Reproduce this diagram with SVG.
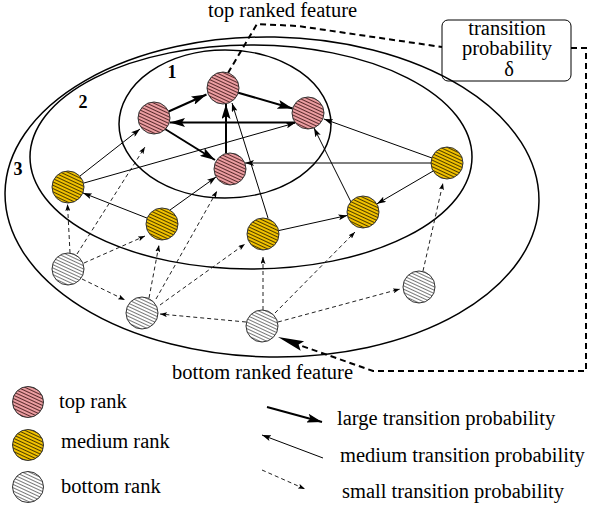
<svg xmlns="http://www.w3.org/2000/svg" width="600" height="506" viewBox="0 0 600 506">
<style>
text{font-family:"Liberation Serif","Times New Roman",serif;fill:#000}
.t{font-size:20.5px}
.num{font-size:18px;font-weight:bold}
.ell{fill:none;stroke:#000;stroke-width:1.5}
.nd{stroke:#333;stroke-width:1}
.top{fill:url(#hTop)}
.mid{fill:url(#hMid)}
.bot{fill:url(#hBot)}
.L{stroke:#000;stroke-width:2;fill:none;marker-end:url(#mL)}
.M{stroke:#000;stroke-width:1;fill:none;marker-end:url(#mM)}
.S{stroke:#222;stroke-width:1;fill:none;stroke-dasharray:4 3;marker-end:url(#mS)}
.D{stroke:#000;stroke-width:2;fill:none;stroke-dasharray:6 4}
</style>
<defs>
<pattern id="hTop" patternUnits="userSpaceOnUse" width="4" height="3" patternTransform="rotate(25)">
<rect width="4" height="3" fill="#ec9ea2"/><line x1="0" y1="1.5" x2="4" y2="1.5" stroke="#4a1e1e" stroke-width="0.9"/>
</pattern>
<pattern id="hMid" patternUnits="userSpaceOnUse" width="4" height="3" patternTransform="rotate(25)">
<rect width="4" height="3" fill="#f2c200"/><line x1="0" y1="1.5" x2="4" y2="1.5" stroke="#3a2c00" stroke-width="0.9"/>
</pattern>
<pattern id="hBot" patternUnits="userSpaceOnUse" width="4" height="3" patternTransform="rotate(25)">
<rect width="4" height="3" fill="#fff"/><line x1="0" y1="1.5" x2="4" y2="1.5" stroke="#555" stroke-width="0.8"/>
</pattern>
<marker id="mL" markerUnits="userSpaceOnUse" markerWidth="15" markerHeight="9" refX="15" refY="4.5" orient="auto"><path d="M0,0 L15,4.5 L0,9 L3,4.5 z" fill="#000"/></marker>
<marker id="mM" markerUnits="userSpaceOnUse" markerWidth="9" markerHeight="6" refX="9" refY="3" orient="auto"><path d="M0,0 L9,3 L0,6 L2,3 z" fill="#000"/></marker>
<marker id="mS" markerUnits="userSpaceOnUse" markerWidth="7" markerHeight="5" refX="7" refY="2.5" orient="auto"><path d="M0,0 L7,2.5 L0,5 L1.5,2.5 z" fill="#000"/></marker>
</defs>

<g id="regions">
<ellipse class="ell" cx="272" cy="197" rx="267" ry="160" transform="rotate(1 272 197)"/>
<ellipse class="ell" cx="251" cy="157" rx="221" ry="112"/>
<ellipse class="ell" cx="225" cy="124" rx="106" ry="74"/>
<text class="num" x="172" y="78" text-anchor="middle">1</text>
<text class="num" x="83" y="108" text-anchor="middle">2</text>
<text class="num" x="18" y="175" text-anchor="middle">3</text>
</g>

<g id="connectors">
<!-- large -->
<line class="L" x1="168.6" y1="111.5" x2="206.5" y2="94.5"/>
<line class="L" x1="237.4" y1="92.5" x2="292.6" y2="108.5"/>
<line class="L" x1="295" y1="122.5" x2="170" y2="122.5"/>
<line class="L" x1="165" y1="129" x2="215" y2="160"/>
<line class="L" x1="226" y1="153.5" x2="226" y2="104"/>
<!-- medium -->
<line class="M" x1="80" y1="176" x2="140" y2="129"/>
<line class="M" x1="84" y1="183" x2="295" y2="123"/>
<line class="M" x1="147.1" y1="218.1" x2="82.9" y2="192.9"/>
<line class="M" x1="170" y1="210" x2="216" y2="177"/>
<line class="M" x1="268" y1="218" x2="232" y2="103"/>
<line class="M" x1="278.6" y1="230.6" x2="347.4" y2="215.4"/>
<line class="M" x1="351" y1="202" x2="314" y2="128"/>
<line class="M" x1="433.2" y1="171" x2="377" y2="203.8"/>
<line class="M" x1="431" y1="163" x2="245" y2="163"/>
<line class="M" x1="432" y1="158" x2="324" y2="119"/>
<!-- small -->
<line class="S" x1="70" y1="253" x2="67.5" y2="204"/>
<line class="S" x1="77" y1="254" x2="145" y2="147"/>
<line class="S" x1="84" y1="263" x2="145" y2="236"/>
<line class="S" x1="82" y1="279" x2="125" y2="300"/>
<line class="S" x1="149" y1="298" x2="159" y2="245"/>
<line class="S" x1="156" y1="299" x2="217" y2="191"/>
<line class="S" x1="160" y1="305" x2="245" y2="244"/>
<line class="S" x1="246" y1="322" x2="160" y2="314"/>
<line class="S" x1="263" y1="310" x2="263" y2="257"/>
<line class="S" x1="275" y1="313" x2="355" y2="232"/>
<line class="S" x1="278" y1="322" x2="400" y2="289"/>
<line class="S" x1="423" y1="271" x2="443" y2="183"/>
<!-- annotation connectors -->
<path class="D" d="M228,73 L257,24 L298,26 L442,47"/>
<path class="D" d="M571,48 L586,48 L586,371 L373,371 L302,346"/>
<polygon points="278,337 304.1,341.3 298.6,344.6 300.7,350.7" fill="#000"/>
<!-- legend arrows -->
<line class="L" x1="267" y1="407" x2="322" y2="422"/>
<line class="M" x1="323" y1="458" x2="262" y2="435"/>
<line class="S" x1="262" y1="470" x2="305" y2="489"/>
</g>

<g id="T1"><circle class="nd top" cx="223" cy="88" r="16"/></g>
<g id="T2"><circle class="nd top" cx="154" cy="118" r="16"/></g>
<g id="T3"><circle class="nd top" cx="308" cy="113" r="16"/></g>
<g id="T4"><circle class="nd top" cx="230" cy="169" r="16"/></g>
<g id="M1"><circle class="nd mid" cx="68" cy="187" r="16"/></g>
<g id="M2"><circle class="nd mid" cx="162" cy="224" r="16"/></g>
<g id="M3"><circle class="nd mid" cx="263" cy="234" r="16"/></g>
<g id="M4"><circle class="nd mid" cx="363" cy="212" r="16"/></g>
<g id="M5"><circle class="nd mid" cx="447" cy="163" r="16"/></g>
<g id="B1"><circle class="nd bot" cx="68" cy="269" r="16"/></g>
<g id="B2"><circle class="nd bot" cx="142" cy="313" r="16"/></g>
<g id="B3"><circle class="nd bot" cx="262" cy="326" r="16"/></g>
<g id="B4"><circle class="nd bot" cx="419" cy="287" r="16"/></g>

<g id="label-top">
<text class="t" x="208" y="17">top ranked feature</text>
</g>
<g id="label-bottom">
<text class="t" x="172" y="379">bottom ranked feature</text>
</g>
<g id="delta-box">
<rect x="442" y="20" width="129" height="61" rx="6" fill="none" stroke="#000" stroke-width="1"/>
<text class="t" x="507" y="35" text-anchor="middle">transition</text>
<text class="t" x="507" y="55" text-anchor="middle">probability</text>
<text class="t" x="509" y="76" text-anchor="middle">δ</text>
</g>

<g id="legend">
<circle class="nd top" cx="28" cy="402" r="15.5"/>
<circle class="nd mid" cx="28" cy="445" r="15.5"/>
<circle class="nd bot" cx="28" cy="487" r="15.5"/>
<text class="t" x="59" y="408">top rank</text>
<text class="t" x="61" y="448">medium rank</text>
<text class="t" x="61" y="493">bottom rank</text>
<text class="t" x="337" y="425">large transition probability</text>
<text class="t" x="340" y="462">medium transition probability</text>
<text class="t" x="342" y="498">small transition probability</text>
</g>
</svg>
